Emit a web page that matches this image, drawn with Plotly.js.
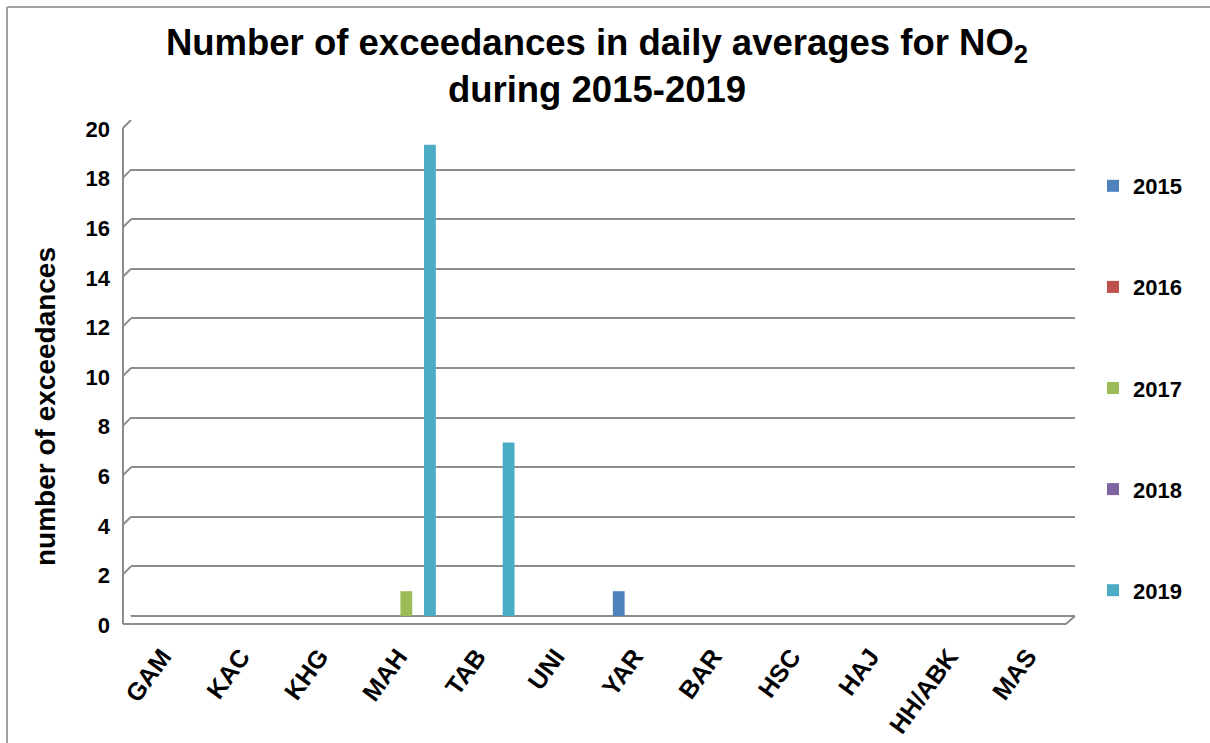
<!DOCTYPE html>
<html>
<head>
<meta charset="utf-8">
<script src="https://cdn.plot.ly/plotly-3.0.1.min.js"></script>
<style>
  html, body { margin: 0; padding: 0; background: #fff; }
  #chart { width: 1210px; height: 743px; }
</style>
</head>
<body>
<div id="chart"></div>
<script>
// ---- data ----
const categories = ["GAM", "KAC", "KHG", "MAH", "TAB", "UNI", "YAR", "BAR", "HSC", "HAJ", "HH/ABK", "MAS"];
const seriesNames = ["2015", "2016", "2017", "2018", "2019"];
const v2015 = [0, 0, 0, 0, 0, 0, 1, 0, 0, 0, 0, 0];
const v2016 = [0, 0, 0, 0, 0, 0, 0, 0, 0, 0, 0, 0];
const v2017 = [0, 0, 0, 1, 0, 0, 0, 0, 0, 0, 0, 0];
const v2018 = [0, 0, 0, 0, 0, 0, 0, 0, 0, 0, 0, 0];
const v2019 = [0, 0, 0, 19, 7, 0, 0, 0, 0, 0, 0, 0];
const yTicks = [0, 2, 4, 6, 8, 10, 12, 14, 16, 18, 20];
const colors = ["#4F81BD", "#C0504D", "#9BBB59", "#8064A2", "#4BACC6"];

const allValues = [v2015, v2016, v2017, v2018, v2019];

const FONT = "Liberation Sans, Arial, sans-serif";
const GRID = "#8C8C8C";

const traces = seriesNames.map((name, i) => ({
  type: "bar",
  name: name,
  x: categories,
  y: allValues[i],
  legendgroup: name,
  marker: { color: colors[i], line: { width: 0 } },
  hoverinfo: "x+y+name"
}));

// plot area geometry
const L = 131, R = 135, T = 120, B = 127;
const W = 1210 - L - R, H = 743 - T - B;
const px = p => p / W, py = p => p / H;

const shapes = [];
// diagonal stubs at each gridline (3D perspective)
yTicks.forEach(t => {
  shapes.push({
    type: "line", xref: "paper", yref: "y",
    xsizemode: "pixel", xanchor: 0, x0: -8, x1: 0,
    ysizemode: "pixel", yanchor: t, y0: -8, y1: 0,
    line: { color: GRID, width: 2 }
  });
});
// left vertical wall edge
shapes.push({
  type: "line", xref: "paper", yref: "paper",
  x0: px(-8), x1: px(-8), y0: py(-8), y1: 1 - py(8),
  line: { color: GRID, width: 2 }
});
// floor front edge
shapes.push({
  type: "line", xref: "paper", yref: "paper",
  x0: px(-8), x1: 1 - px(9), y0: py(-8), y1: py(-8),
  line: { color: GRID, width: 2 }
});
// floor right diagonal
shapes.push({
  type: "line", xref: "paper", yref: "paper",
  x0: 1 - px(9), x1: 1, y0: py(-8), y1: 0,
  line: { color: GRID, width: 2 }
});
// outer chart border (top and left)
shapes.push({
  type: "line", xref: "paper", yref: "paper",
  x0: px(7 - L), x1: px(1210 - L), y0: py(743 - 7 - B), y1: py(743 - 7 - B),
  line: { color: "#A0A0A0", width: 2 }
});
shapes.push({
  type: "line", xref: "paper", yref: "paper",
  x0: px(7 - L), x1: px(7 - L), y0: py(743 - 7 - B), y1: py(-B),
  line: { color: "#A0A0A0", width: 2 }
});

const layout = {
  width: 1210, height: 743,
  margin: { l: L, r: R, t: T, b: B },
  paper_bgcolor: "#fff", plot_bgcolor: "#fff",
  font: { family: FONT, color: "#000" },
  title: {
    text: "<b>Number of exceedances in daily averages for NO<sub>2</sub><br>during 2015-2019</b>",
    font: { family: FONT, size: 36.5, color: "#000" },
    xref: "container", x: 597 / 1210, xanchor: "center",
    yref: "container", y: 1 - 55 / 743, yanchor: "top"
  },
  barmode: "group",
  bargap: 0.25,
  bargroupgap: 0,
  showlegend: true,
  legend: {
    x: (1093 - L) / W, xanchor: "left",
    y: (743 - B - 165) / H, yanchor: "top",
    font: { family: FONT, size: 22, color: "#000", weight: "bold" },
    traceorder: "grouped",
    tracegroupgap: 69.5,
    itemwidth: 30,
    bgcolor: "rgba(0,0,0,0)"
  },
  xaxis: {
    type: "category",
    tickangle: -54,
    tickfont: { family: FONT, size: 25, color: "#000", weight: "bold" },
    showgrid: false, zeroline: false, showline: false,
    ticks: "", ticklabelstandoff: 20, ticklabelshift: -8
  },
  yaxis: {
    range: [0, 20],
    tickvals: yTicks,
    ticktext: yTicks.map(String),
    tickfont: { family: FONT, size: 22, color: "#000", weight: "bold" },
    showgrid: true, gridcolor: GRID, gridwidth: 2,
    zeroline: true, zerolinecolor: GRID, zerolinewidth: 2,
    showline: false, ticks: "",
    ticklabelstandoff: 20, ticklabelshift: 9
  },
  annotations: [{
    text: "<b>number of exceedances</b>",
    font: { family: FONT, size: 28, color: "#000" },
    textangle: -90,
    xref: "paper", yref: "paper",
    x: px(45 - L), y: py(743 - B - 407),
    xanchor: "center", yanchor: "middle",
    showarrow: false
  }],
  shapes: shapes
};

Plotly.newPlot("chart", traces, layout, { displayModeBar: false, staticPlot: true });
</script>
</body>
</html>
